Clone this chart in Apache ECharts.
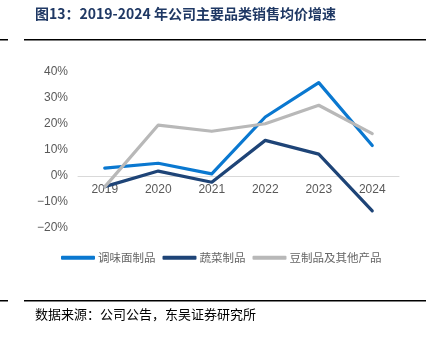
<!DOCTYPE html>
<html><head><meta charset="utf-8">
<script src="https://cdn.jsdelivr.net/npm/echarts@6/dist/echarts.min.js"></script>
<style>html,body{margin:0;padding:0;background:#fff}#c{width:436px;height:341px}</style>
</head><body><div id="c"></div>
<script>
const categories = ['2019','2020','2021','2022','2023','2024'];
const noodle = [3.0, 4.9, 0.8, 22.7, 35.9, 11.7];
const veg = [-4.1, 1.9, -2.4, 13.7, 8.4, -13.4];
const bean = [-4.2, 19.6, 17.2, 20.1, 27.2, 16.3];
const seriesNames = ['调味面制品','蔬菜制品','豆制品及其他产品'];
const colors = ['#0A78D0','#1E4477','#B8B8B8'];

const chart = echarts.init(document.getElementById('c'));
const mk = (name, data, color) => ({
  name, type:'line', data, symbol:'none', smooth:false,
  lineStyle:{color, width:3.2, cap:'round', join:'round'}, itemStyle:{color}
});
chart.setOption({
  animation:false,
  grid:{left:78, right:37, top:72, bottom:113, containLabel:false},
  legend:{
    left:56, top:247, itemWidth:34, itemHeight:4, itemGap:7, icon:'roundRect',
    data:seriesNames,
    textStyle:{fontFamily:'Noto Sans CJK SC', fontSize:11.5, color:'#666666', padding:[0,0,0,-2]}
  },
  xAxis:{
    type:'category', data:categories, boundaryGap:true,
    offset:-52,
    axisLine:{onZero:false, lineStyle:{color:'#D9D9D9', width:1}},
    axisTick:{show:false},
    axisLabel:{color:'#595959', fontFamily:'Liberation Sans, Arial', fontSize:12, margin:8}
  },
  yAxis:{
    type:'value', min:-20, max:40, interval:10,
    axisLine:{show:false}, axisTick:{show:false}, splitLine:{show:false},
    axisLabel:{color:'#595959', fontFamily:'Liberation Sans, Arial', fontSize:12, margin:10,
      formatter:v => (v<0 ? '\u2212'+(-v) : v)+'%'}
  },
  series:[mk(seriesNames[0], noodle, colors[0]), mk(seriesNames[1], veg, colors[1]), mk(seriesNames[2], bean, colors[2])],
  graphic:[
    {type:'text', left:35, top:7, style:{text:'图13：2019-2024 年公司主要品类销售均价增速', fill:'#1F3864', font:'bold 14px "Noto Sans CJK SC"'}},
    {type:'rect', shape:{x:24, y:39, width:402, height:1.5}, style:{fill:'#000'}},
    {type:'rect', shape:{x:0, y:39, width:8, height:1.5}, style:{fill:'#000'}},
    {type:'rect', shape:{x:24, y:300, width:402, height:1.5}, style:{fill:'#000'}},
    {type:'rect', shape:{x:0, y:300, width:8, height:1.5}, style:{fill:'#000'}},
    {type:'text', left:35, top:308, style:{text:'数据来源：公司公告，东吴证券研究所', fill:'#000', font:'13px "Noto Sans CJK SC"'}}
  ]
});
</script></body></html>
